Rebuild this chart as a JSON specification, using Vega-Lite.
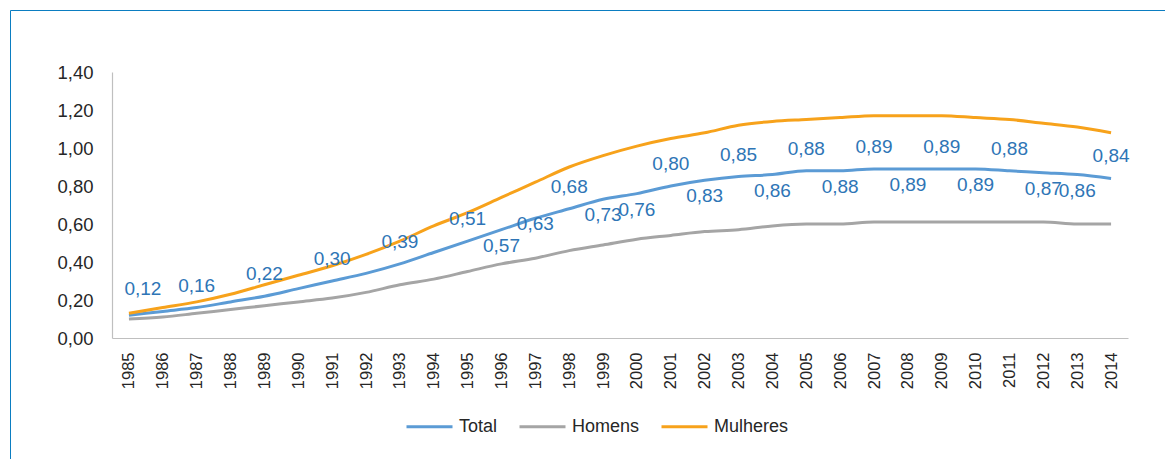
{
  "$schema": "https://vega.github.io/schema/vega-lite/v6.json",
  "width": 1016,
  "height": 266,
  "autosize": {"type": "none"},
  "padding": {"left": 112, "top": 72, "right": 37, "bottom": 121},
  "background": "white",
  "config": {
    "locale": {"number": {"decimal": ",", "thousands": ".", "grouping": [3], "currency": ["", " €"]}},
    "view": {"stroke": null},
    "font": "Liberation Sans"
  },
  "data": {
    "values": [
      {"year": "1985", "Total": 0.12, "Homens": 0.10, "Mulheres": 0.13},
      {"year": "1986", "Total": 0.14, "Homens": 0.11, "Mulheres": 0.16},
      {"year": "1987", "Total": 0.16, "Homens": 0.13, "Mulheres": 0.19},
      {"year": "1988", "Total": 0.19, "Homens": 0.15, "Mulheres": 0.23},
      {"year": "1989", "Total": 0.22, "Homens": 0.17, "Mulheres": 0.28},
      {"year": "1990", "Total": 0.26, "Homens": 0.19, "Mulheres": 0.33},
      {"year": "1991", "Total": 0.30, "Homens": 0.21, "Mulheres": 0.38},
      {"year": "1992", "Total": 0.34, "Homens": 0.24, "Mulheres": 0.44},
      {"year": "1993", "Total": 0.39, "Homens": 0.28, "Mulheres": 0.51},
      {"year": "1994", "Total": 0.45, "Homens": 0.31, "Mulheres": 0.59},
      {"year": "1995", "Total": 0.51, "Homens": 0.35, "Mulheres": 0.66},
      {"year": "1996", "Total": 0.57, "Homens": 0.39, "Mulheres": 0.74},
      {"year": "1997", "Total": 0.63, "Homens": 0.42, "Mulheres": 0.82},
      {"year": "1998", "Total": 0.68, "Homens": 0.46, "Mulheres": 0.90},
      {"year": "1999", "Total": 0.73, "Homens": 0.49, "Mulheres": 0.96},
      {"year": "2000", "Total": 0.76, "Homens": 0.52, "Mulheres": 1.01},
      {"year": "2001", "Total": 0.80, "Homens": 0.54, "Mulheres": 1.05},
      {"year": "2002", "Total": 0.83, "Homens": 0.56, "Mulheres": 1.08},
      {"year": "2003", "Total": 0.85, "Homens": 0.57, "Mulheres": 1.12},
      {"year": "2004", "Total": 0.86, "Homens": 0.59, "Mulheres": 1.14},
      {"year": "2005", "Total": 0.88, "Homens": 0.60, "Mulheres": 1.15},
      {"year": "2006", "Total": 0.88, "Homens": 0.60, "Mulheres": 1.16},
      {"year": "2007", "Total": 0.89, "Homens": 0.61, "Mulheres": 1.17},
      {"year": "2008", "Total": 0.89, "Homens": 0.61, "Mulheres": 1.17},
      {"year": "2009", "Total": 0.89, "Homens": 0.61, "Mulheres": 1.17},
      {"year": "2010", "Total": 0.89, "Homens": 0.61, "Mulheres": 1.16},
      {"year": "2011", "Total": 0.88, "Homens": 0.61, "Mulheres": 1.15},
      {"year": "2012", "Total": 0.87, "Homens": 0.61, "Mulheres": 1.13},
      {"year": "2013", "Total": 0.86, "Homens": 0.60, "Mulheres": 1.11},
      {"year": "2014", "Total": 0.84, "Homens": 0.60, "Mulheres": 1.08}
    ]
  },
  "transform": [
    {"fold": ["Total", "Homens", "Mulheres"], "as": ["serie", "value"]}
  ],
  "encoding": {
    "x": {
      "field": "year", "type": "ordinal",
      "scale": {"type": "point", "padding": 0.5},
      "title": null,
      "axis": {"labelAngle": -90, "ticks": false, "labelPadding": 14, "labelFontSize": 16.5, "labelColor": "#262626", "domainColor": "#BFBFBF", "domainWidth": 1.2, "grid": false}
    },
    "y": {
      "field": "value", "type": "quantitative",
      "scale": {"domain": [0, 1.4], "nice": false},
      "title": null,
      "axis": {"values": [0, 0.2, 0.4, 0.6, 0.8, 1.0, 1.2, 1.4], "format": ".2f", "ticks": false, "grid": false, "labelPadding": 19, "labelFontSize": 18.5, "labelColor": "#262626", "domainColor": "#BFBFBF", "domainWidth": 1.2}
    }
  },
  "layer": [
    {
      "mark": {"type": "line", "strokeWidth": 3, "interpolate": "monotone"},
      "encoding": {
        "color": {
          "field": "serie", "type": "nominal",
          "scale": {"domain": ["Total", "Homens", "Mulheres"], "range": ["#5B9BD5", "#A5A5A5", "#F7A21B"]},
          "legend": {
            "orient": "none", "legendX": -102, "legendY": -62,
            "direction": "horizontal",
            "title": " ", "titleOrient": "left", "titleFontSize": 4, "titlePadding": 3,
            "padding": 392, "strokeColor": "#0B7DC1",
            "labelFontSize": 18, "labelColor": "#262626", "labelOffset": 5,
            "symbolType": "stroke", "symbolSize": 2116, "symbolStrokeWidth": 3,
            "columnPadding": 15
          }
        },
        "order": {"value": 0}
      }
    },
    {
      "transform": [{"filter": {"field": "serie", "equal": "Total"}}, {"filter": {"field": "year", "oneOf": ["1985"]}}],
      "mark": {"type": "text", "fontSize": 19, "color": "#2E75B6", "dy": -26, "dx": 14},
      "encoding": {"text": {"field": "value", "type": "quantitative", "format": ".2f"}}
    },
    {
      "transform": [{"filter": {"field": "serie", "equal": "Total"}}, {"filter": {"field": "year", "oneOf": ["1987", "1989", "1991", "1993", "1995", "1998", "2001", "2003", "2005", "2007", "2009", "2011", "2014"]}}],
      "mark": {"type": "text", "fontSize": 19, "color": "#2E75B6", "dy": -22},
      "encoding": {"text": {"field": "value", "type": "quantitative", "format": ".2f"}}
    },
    {
      "transform": [{"filter": {"field": "serie", "equal": "Total"}}, {"filter": {"field": "year", "oneOf": ["1996", "1999", "2000", "2002", "2004", "2006", "2008", "2010", "2012", "2013"]}}],
      "mark": {"type": "text", "fontSize": 19, "color": "#2E75B6", "dy": 16},
      "encoding": {"text": {"field": "value", "type": "quantitative", "format": ".2f"}}
    },
    {
      "transform": [{"filter": {"field": "serie", "equal": "Total"}}, {"filter": {"field": "year", "oneOf": ["1997"]}}],
      "mark": {"type": "text", "fontSize": 19, "color": "#2E75B6", "dy": 6},
      "encoding": {"text": {"field": "value", "type": "quantitative", "format": ".2f"}}
    }
  ]
}
